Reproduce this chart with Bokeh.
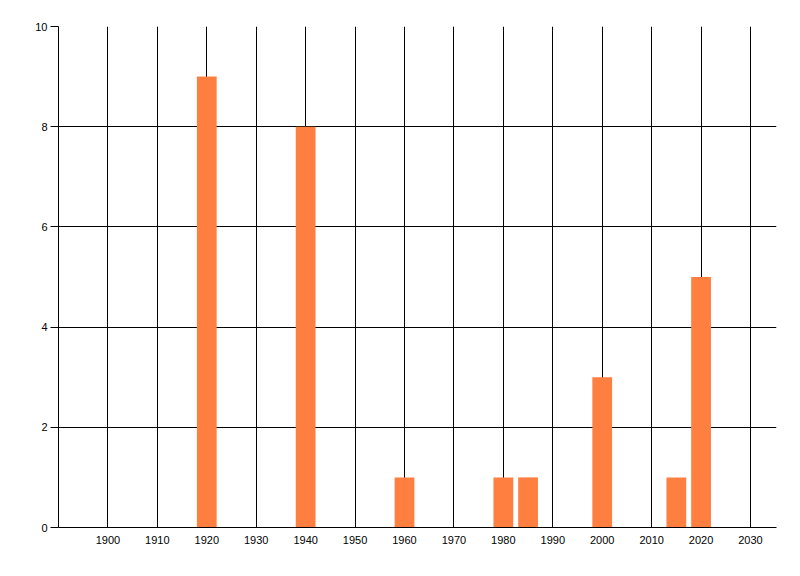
from bokeh.plotting import figure
from bokeh.models import FixedTicker, Range1d
from bokeh.embed import file_html
from bokeh.resources import INLINE

years = [1920, 1940, 1960, 1980, 1985, 2000, 2015, 2020]
counts = [9, 8, 1, 1, 1, 3, 1, 5]
x_ticks = [1900, 1910, 1920, 1930, 1940, 1950, 1960, 1970, 1980, 1990, 2000, 2010, 2020, 2030]
y_ticks = [0, 2, 4, 6, 8, 10]

p = figure(width=790, height=566, frame_width=718, frame_height=501,
           min_border_left=58, min_border_top=26, min_border_right=10, min_border_bottom=10,
           x_range=Range1d(1890, 2035.26), y_range=Range1d(0, 10),
           output_backend="svg", toolbar_location=None)
p.outline_line_color = None
p.background_fill_color = "white"
p.border_fill_color = "white"

p.vbar(x=years, top=counts, width=4, bottom=0, fill_color="#FF7F41", line_color=None)

p.xaxis.ticker = FixedTicker(ticks=x_ticks)
p.yaxis.ticker = FixedTicker(ticks=y_ticks)
p.xgrid.ticker = FixedTicker(ticks=x_ticks)
p.ygrid.ticker = FixedTicker(ticks=y_ticks)
for g in (p.xgrid, p.ygrid):
    g.grid_line_color = "black"
    g.grid_line_width = 1
    g.grid_line_alpha = 1

for ax in (p.xaxis, p.yaxis):
    ax.axis_line_color = "black"
    ax.minor_tick_line_color = None
    ax.major_label_text_font = "Liberation Sans"
    ax.major_label_text_font_size = "11px"
    ax.major_label_text_color = "black"
    ax.major_tick_line_color = "black"

p.xaxis.major_tick_out = 0
p.xaxis.major_tick_in = 0
p.xaxis.major_label_standoff = 8
p.yaxis.major_tick_out = 8
p.yaxis.major_tick_in = 0
p.yaxis.major_label_standoff = 3

open("out.html", "w").write(file_html(p, INLINE))
